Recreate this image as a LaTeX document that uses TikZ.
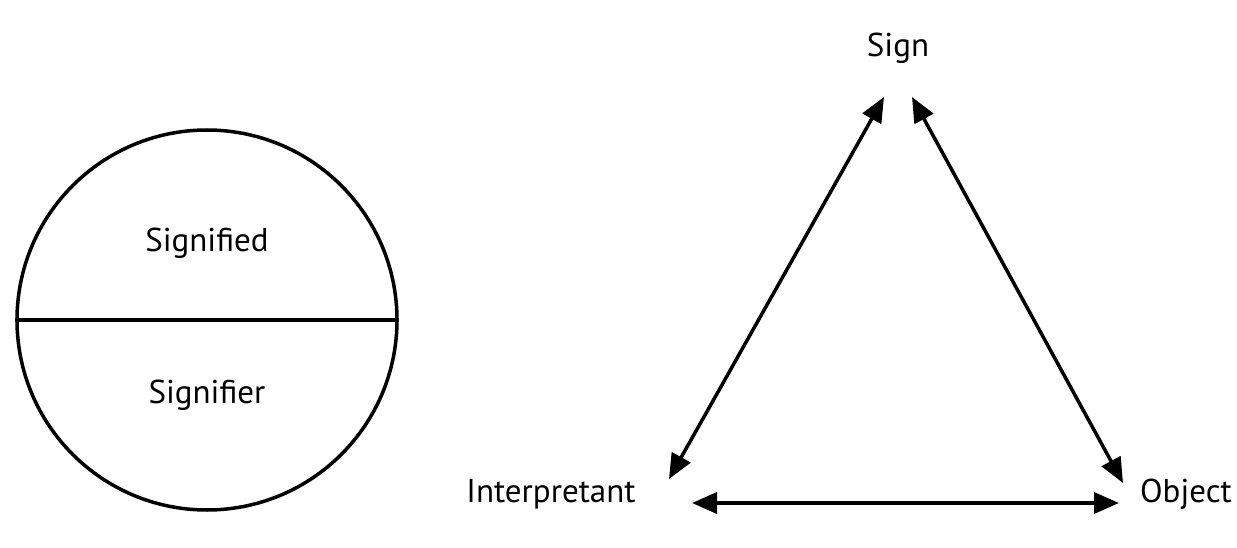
\documentclass[tikz,border=0pt]{standalone}
\usepackage{fontspec}
\setmainfont{PT Sans}
\usetikzlibrary{arrows.meta}
\begin{document}
\begin{tikzpicture}[x=1pt,y=-1pt,
  lbl/.style={font=\fontsize{33}{37}\selectfont, inner sep=0pt},
  link/.style={line width=3.5pt, {Triangle[length=25pt,width=21pt]}-{Triangle[length=25pt,width=21pt]}}]
\useasboundingbox (0,0) rectangle (1237,548);
\node[draw, circle, line width=3.5pt, minimum size=380pt, inner sep=0pt] (c) at (207,320) {};
\draw[line width=3.5pt] (c.west) -- (c.east);
\node[lbl] (sd) at (207,243) {Signified};
\node[lbl] (sr) at (207,395) {Signifier};
\node[lbl] (sign) at (898,48) {Sign};
\node[lbl] (int) at (551,494) {Interpretant};
\node[lbl] (obj) at (1186,494) {Object};
\coordinate (a1) at (884,97);
\coordinate (a2) at (669,479);
\coordinate (b1) at (912,97);
\coordinate (b2) at (1123,483);
\coordinate (c1) at (692,503);
\coordinate (c2) at (1119,503);
\draw[link] (a1) -- (a2);
\draw[link] (b1) -- (b2);
\draw[link] (c1) -- (c2);
\end{tikzpicture}
\end{document}
